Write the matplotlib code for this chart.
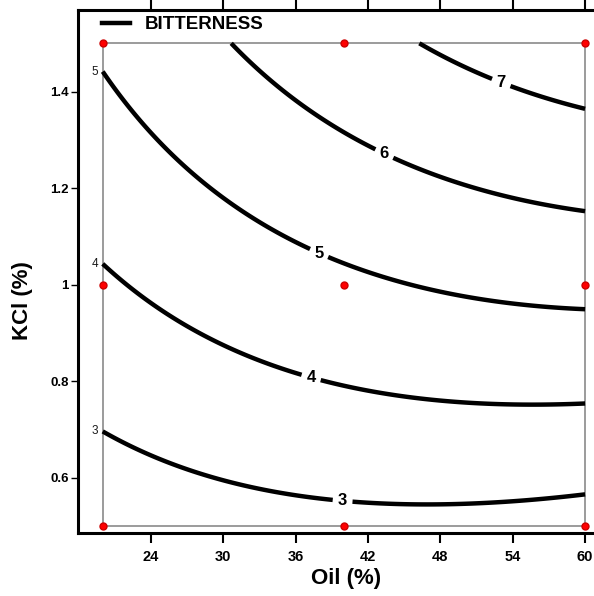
import matplotlib
matplotlib.use('Agg')
import matplotlib.pyplot as plt
import numpy as np
from matplotlib.patches import Rectangle
from matplotlib.lines import Line2D

plt.rcParams['font.family'] = ['Liberation Sans', 'DejaVu Sans']
plt.rcParams['font.weight'] = 'bold'

# design points (Oil %, KCl %)
design_oil = [20, 40, 60, 20, 40, 60, 20, 40, 60]
design_kcl = [0.5, 0.5, 0.5, 1.0, 1.0, 1.0, 1.5, 1.5, 1.5]

# points
c3_oil = [20.0, 24.75, 29.73, 35.78, 39.1, 46.31, 52.7, 60.0]
c3_kcl = [0.695, 0.643, 0.591, 0.564, 0.554, 0.545, 0.554, 0.566]
c4_oil = [20.0, 24.75, 26.41, 30.15, 34.7, 38.85, 43.0, 45.73, 48.55, 51.29, 54.02, 56.83, 60.0]
c4_kcl = [1.041, 0.948, 0.923, 0.879, 0.827, 0.792, 0.776, 0.765, 0.755, 0.751, 0.751, 0.753, 0.755]
c5_oil = [20.0, 22.51, 25.33, 28.07, 30.8, 33.62, 35.78, 38.85, 43.0, 45.73, 48.55, 51.29, 54.02, 56.83, 60.0]
c5_kcl = [1.438, 1.356, 1.279, 1.217, 1.169, 1.128, 1.099, 1.057, 1.016, 0.999, 0.983, 0.970, 0.960, 0.952, 0.950]
c6_oil = [30.72, 33.62, 36.36, 39.1, 40.51, 44.65, 48.8, 52.94, 55.67, 60.0]
c6_kcl = [1.5, 1.424, 1.378, 1.327, 1.306, 1.254, 1.217, 1.186, 1.169, 1.151]
c7_oil = [46.31, 48.8, 51.29, 54.35, 57.07, 60.0]
c7_kcl = [1.5, 1.465, 1.438, 1.407, 1.387, 1.364]

levels = [3, 4, 5, 6, 7]
label_oil = [39.9, 37.3, 37.95, 43.5, 53.1]
label_kcl = [0.554, 0.809, 1.066, 1.279, 1.422]

x_ticks = [24, 30, 36, 42, 48, 54, 60]
y_ticks = [0.6, 0.8, 1.0, 1.2, 1.4]
y_ticklabels = ['0.6', '0.8', '1', '1.2', '1.4']

# quadratic response surface fitted to the contour readings
pts_oil = np.concatenate([c3_oil, c4_oil, c5_oil, c6_oil, c7_oil])
pts_kcl = np.concatenate([c3_kcl, c4_kcl, c5_kcl, c6_kcl, c7_kcl])
pts_lev = np.concatenate([np.full(len(c), lv) for c, lv in
                          zip([c3_oil, c4_oil, c5_oil, c6_oil, c7_oil], levels)])


def terms(o, k):
    u = (np.asarray(o) - 40) / 20
    v = (np.asarray(k) - 1) / 0.5
    return np.stack([np.ones_like(u), u, v, u * v, u ** 2, v ** 2], axis=-1)


coef, *_ = np.linalg.lstsq(terms(pts_oil, pts_kcl), pts_lev, rcond=None)

gx, gy = np.meshgrid(np.linspace(min(design_oil), max(design_oil), 301),
                     np.linspace(min(design_kcl), max(design_kcl), 301))
gz = terms(gx, gy) @ coef

fig = plt.figure(figsize=(5.94, 5.96), dpi=100)
ax = fig.add_axes([78 / 594, 0.1049, 1 - 78 / 594, 0.9832 - 0.1049])

# design space box and points
ax.add_patch(Rectangle((min(design_oil), min(design_kcl)),
                       max(design_oil) - min(design_oil),
                       max(design_kcl) - min(design_kcl),
                       fill=False, edgecolor='#808080', linewidth=1.1, zorder=1))

cs = ax.contour(gx, gy, gz, levels=levels, colors='black', linewidths=3.2, zorder=2)

# small level numbers at the left ends of the contours
for lv, path in zip(levels, cs.get_paths()):
    v = path.vertices
    if len(v) == 0:
        continue
    i = np.argmin(v[:, 0])
    if v[i, 0] < 20.5:
        ax.text(v[i, 0] - 0.4, v[i, 1], str(lv), ha='right', va='center',
                fontsize=8.5, fontweight='normal', color='#1a1a1a')

lbls = ax.clabel(cs, fmt='%d', fontsize=12, inline=True, inline_spacing=6,
                 manual=list(zip(label_oil, label_kcl)))
for t in lbls:
    t.set_fontweight('bold')
    t.set_rotation(0)

ax.plot(design_oil, design_kcl, 'o', color='red', markeredgecolor='#cc0000',
        markersize=5, clip_on=False, zorder=5)

ax.set_xlim(17.95, 60.74)
ax.set_ylim(0.4845, 1.569)
ax.set_xticks(x_ticks)
ax.set_yticks(y_ticks)
ax.set_yticklabels(y_ticklabels)

for s in ['left', 'top', 'bottom']:
    ax.spines[s].set_linewidth(2.2)
ax.spines['right'].set_visible(False)

ax.tick_params(axis='x', top=True, direction='out', length=7, width=1.5,
               labelsize=10.5, pad=5)
ax.tick_params(axis='y', direction='out', length=5, width=1.0,
               labelsize=9.5, pad=1.5)

ax.set_xlabel('Oil (%)', fontsize=16, fontweight='bold')
ax.set_ylabel('KCl (%)', fontsize=16, fontweight='bold')
ax.xaxis.set_label_coords(0.519, -0.066)
ax.yaxis.set_label_coords(-0.087, 0.444)

h = Line2D([0], [0], color='black', linewidth=3.2)
ax.legend([h], ['BITTERNESS'], loc='center left', bbox_to_anchor=(0.0465, 0.972),
          frameon=False, borderpad=0, borderaxespad=0, handlelength=1.5,
          handletextpad=0.8, prop={'size': 13.5, 'weight': 'bold'})

fig.savefig('out.png', dpi=100)
